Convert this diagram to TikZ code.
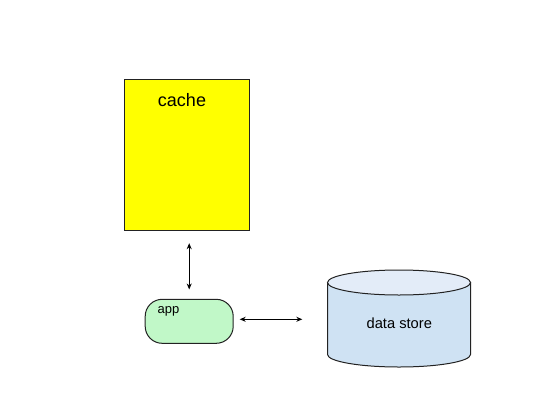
\documentclass[tikz,border=0pt]{standalone}
\usepackage{fontspec}
\setmainfont{Liberation Sans}
\usetikzlibrary{arrows.meta}
\definecolor{cacheyellow}{HTML}{FFFF00}
\definecolor{appgreen}{HTML}{C1F8C8}
\definecolor{dsbody}{HTML}{CFE2F3}
\definecolor{dstop}{HTML}{E3ECF8}
\definecolor{edge}{HTML}{222222}
\tikzset{
  outline/.style={draw=edge, line width=1bp},
  cachebox/.style={outline, fill=cacheyellow, inner sep=0pt, minimum width=125bp, minimum height=151bp},
  appbox/.style={outline, fill=appgreen, rounded corners=17bp, inner sep=0pt, minimum width=88bp, minimum height=44bp},
  txt/.style={inner sep=0pt, anchor=base},
  arr/.style={draw=black, line width=0.9bp, {Stealth[length=6bp,width=5bp]}-{Stealth[length=6bp,width=5bp]}},
}
\begin{document}
\begin{tikzpicture}[x=1bp,y=1bp]
\useasboundingbox (0,0) rectangle (536,403);
% cache
\node[cachebox] (cache) at (186.8,248.2) {};
\node[txt, font=\fontsize{18bp}{20bp}\selectfont] (cachelabel) at (182,296.3) {cache};
% app
\node[appbox] (app) at (189.2,81.7) {};
\node[txt, font=\fontsize{13bp}{15bp}\selectfont] (applabel) at (168.5,90) {app};
% data store cylinder
\filldraw[outline, fill=dsbody] (327.5,120.5) -- (327.5,48.5)
  arc[start angle=180, end angle=360, x radius=71.5, y radius=12.5] -- (470.5,120.5) -- cycle;
\filldraw[outline, fill=dstop] (399,120.5) ellipse[x radius=71.5, y radius=12.5];
\node[inner sep=0pt, minimum width=143bp, minimum height=97bp] (ds) at (399,84.6) {};
\node[txt, font=\fontsize{14.7bp}{17bp}\selectfont] (dslabel) at (399.3,74.7) {data store};
% connectors
\draw[arr, shorten <=9.3bp, shorten >=12.4bp] (app.north) -- (app.north |- cache.south);
\draw[arr, shorten <=6bp, shorten >=25bp] ([yshift=2bp]app.east) -- ([yshift=2bp]app.east -| ds.west);
\end{tikzpicture}
\end{document}
